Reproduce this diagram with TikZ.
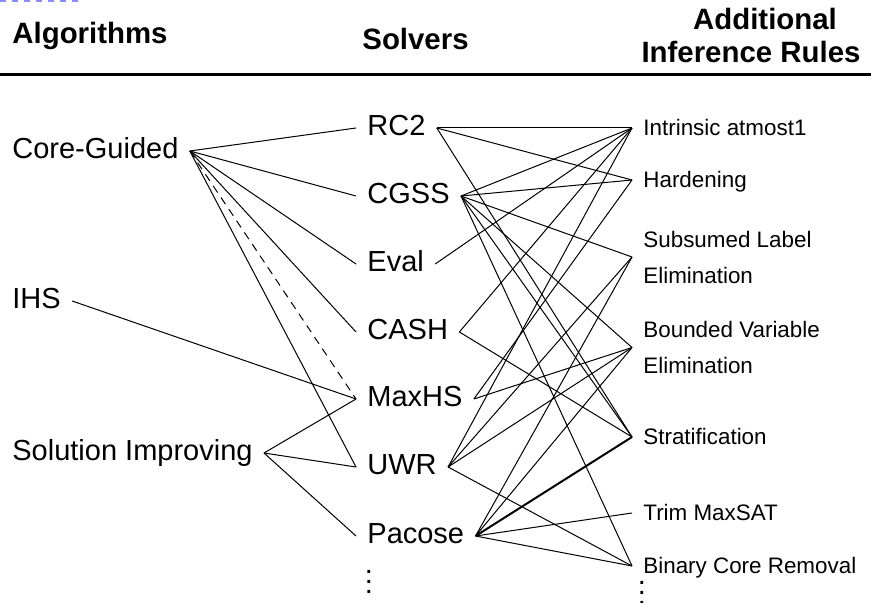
\documentclass[tikz,border=0pt]{standalone}
\usepackage{fontspec}
\setmainfont{Liberation Sans}
% three stacked dots for "and more" rows
\newcommand\colvdots{\vbox{\baselineskip=5pt\lineskiplimit=0pt\hbox{.}\hbox{.}\hbox{.}}}
\begin{document}
\begin{tikzpicture}[x=0.5pt,y=-0.5pt,
  every node/.style={inner sep=0pt},
  colhead/.style={font=\bfseries\fontsize{14.7}{17}\selectfont},
  item/.style={font=\fontsize{14.5}{17}\selectfont, inner xsep=5.5pt, text height=0.716em, text depth=0pt, anchor=west},
  ruleitem/.style={font=\fontsize{11.2}{18}\selectfont, inner xsep=5.5pt, anchor=west},
  oneline/.style={text height=0.716em, text depth=0pt},
  link/.style={line width=0.5pt},
  maybe/.style={link, dash pattern=on 4pt off 3pt},
  heavy/.style={line width=1pt},
]
\path[use as bounding box] (0,0) rectangle (871,603);

% faint dashed edge at the top
\coordinate (topL) at (0,1);
\coordinate (topR) at (80,1);
\draw[blue!45, line width=1pt, dash pattern=on 3pt off 3pt] (topL) -- (topR);

% column headers
\node[colhead, anchor=base west] (hA) at (12,44) {Algorithms};
\node[colhead, anchor=base west] (hS) at (362,50) {Solvers};
\node[colhead, anchor=base] (hR1) at (765,30) {Additional};
\node[colhead, anchor=base] (hR2) at (751,63) {Inference Rules};
\coordinate (ruleL) at (0,74.5);
\coordinate (ruleR) at (871,74.5);
\draw[line width=1.2pt] (ruleL) -- (ruleR);

% algorithms
\node[item] (cg)  at (1,151) {Core-Guided};
\node[item] (ihs) at (1,301) {IHS};
\node[item] (si)  at (1,453) {Solution Improving};

% solvers
\node[item] (rc2)    at (356,128) {RC2};
\node[item] (cgss)   at (356,196) {CGSS};
\node[item] (eval)   at (356,264) {Eval};
\node[item] (cash)   at (356,332) {CASH};
\node[item] (maxhs)  at (356,399) {MaxHS};
\node[item] (uwr)    at (356,467) {UWR};
\node[item] (pacose) at (356,536) {Pacose};
\node[font=\fontsize{14.5}{17}\selectfont, anchor=north] (moreS) at (369,570) {\colvdots};

% inference rules
\node[ruleitem, oneline] (ia)    at (632,128) {Intrinsic atmost1};
\node[ruleitem, oneline] (hard)  at (632,180) {Hardening};
\node[ruleitem, align=left] (sle) at (632,257) {Subsumed Label\\Elimination};
\node[ruleitem, align=left] (bve) at (632,347.5) {Bounded Variable\\Elimination};
\node[ruleitem, oneline] (strat) at (632,437) {Stratification};
\node[ruleitem, oneline] (trim)  at (632,513) {Trim MaxSAT};
\node[ruleitem, oneline] (bcr)   at (632,566) {Binary Core Removal};
\node[font=\fontsize{14.5}{17}\selectfont, anchor=north] (moreR) at (642,581) {\colvdots};

% algorithm -> solver
\draw[link] (cg.east) -- (rc2.west);
\draw[link] (cg.east) -- (cgss.west);
\draw[link] (cg.east) -- (eval.west);
\draw[link] (cg.east) -- (cash.west);
\draw[maybe] (cg.east) -- (maxhs.west);
\draw[link] (cg.east) -- (uwr.west);
\draw[link] (ihs.east) -- (maxhs.west);
\draw[link] (si.east) -- (maxhs.west);
\draw[link] (si.east) -- (uwr.west);
\draw[link] (si.east) -- (pacose.west);

% solver -> inference rule
\draw[link] (rc2.east) -- (ia.west);
\draw[link] (rc2.east) -- (hard.west);
\draw[link] (rc2.east) -- (strat.west);
\draw[link] (cgss.east) -- (ia.west);
\draw[link] (cgss.east) -- (hard.west);
\draw[link] (cgss.east) -- (sle.west);
\draw[link] (cgss.east) -- (bve.west);
\draw[link] (cgss.east) -- (strat.west);
\draw[link] (cgss.east) -- (bcr.west);
\draw[link] (eval.east) -- (ia.west);
\draw[link] (cash.east) -- (ia.west);
\draw[link] (cash.east) -- (strat.west);
\draw[link] (maxhs.east) -- (hard.west);
\draw[link] (maxhs.east) -- (bve.west);
\draw[link] (uwr.east) -- (ia.west);
\draw[link] (uwr.east) -- (sle.west);
\draw[link] (uwr.east) -- (bve.west);
\draw[link] (uwr.east) -- (bcr.west);
\draw[link] (pacose.east) -- (sle.west);
\draw[link] (pacose.east) -- (bve.west);
\draw[heavy] (pacose.east) -- (strat.west);
\draw[link] (pacose.east) -- (trim.west);
\draw[link] (pacose.east) -- (bcr.west);
\end{tikzpicture}
\end{document}
